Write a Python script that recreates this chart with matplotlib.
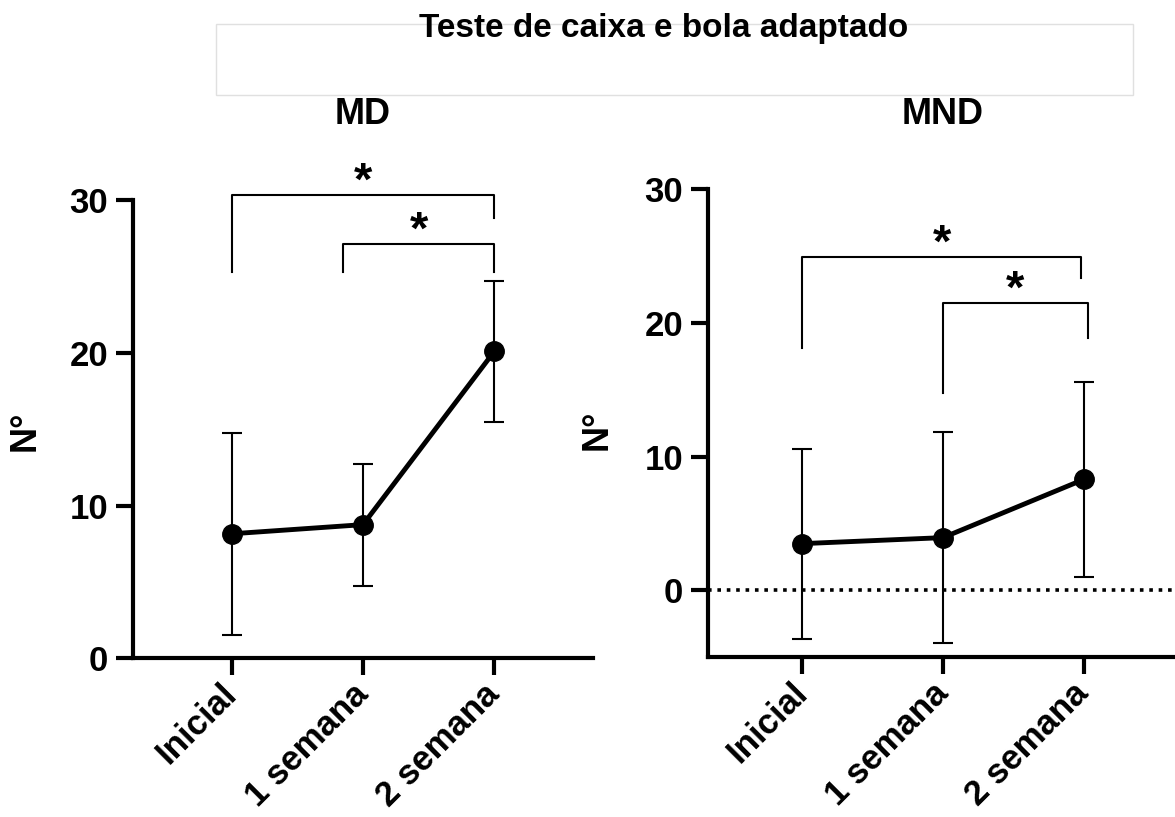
import matplotlib
matplotlib.use("Agg")
import matplotlib.pyplot as plt
from matplotlib.patches import Rectangle

plt.rcParams['font.family'] = ['Liberation Sans', 'DejaVu Sans']
plt.rcParams['font.weight'] = 'bold'

groups = ["Inicial", "1 semana", "2 semana"]

md_mean = [8.15, 8.75, 20.1]
md_sd = [6.6, 4.0, 4.6]
mnd_mean = [3.5, 3.95, 8.3]
mnd_sd = [7.1, 7.9, 7.3]

# brackets: x start, x end, top, left leg bottom, right leg bottom
md_brackets = [(0, 2, 30.3, 25.3, 28.8), (0.85, 2, 27.1, 25.3, 25.3)]
mnd_brackets = [(0, 1.98, 24.9, 18.1, 23.4), (1, 2.03, 21.5, 14.75, 18.9)]

W, H = 1175, 817
fig = plt.figure(figsize=(W / 100, H / 100), dpi=100)

ax1 = fig.add_axes([133 / W, 1 - 658.3 / H, 460 / W, 458.3 / H])
ax2 = fig.add_axes([708 / W, 1 - 657.3 / H, 470 / W, 468 / H])


def draw_panel(ax, mean, sd, brackets, ylim, xlim):
    x = list(range(len(groups)))
    ax.errorbar(x, mean, yerr=sd, fmt='o-', color='black', lw=3.5, ms=14,
                elinewidth=1.5, capsize=7, capthick=1.5, zorder=3)
    for x0, x1, top, l_bot, r_bot in brackets:
        ax.plot([x0, x0, x1, x1], [l_bot, top, top, r_bot], color='black',
                lw=1.5, clip_on=False)
        ax.annotate('*', ((x0 + x1) / 2, top), xytext=(0, -7),
                    textcoords='offset points', ha='center', va='bottom',
                    fontsize=34, fontweight='bold', annotation_clip=False)
    ax.set_xlim(*xlim)
    ax.set_ylim(*ylim)
    ax.set_yticks([0, 10, 20, 30])
    ax.set_xticks(x)
    ax.set_xticklabels(groups, rotation=45, ha='right', va='center',
                       rotation_mode='anchor', fontsize=25, fontweight='bold')
    for lab in ax.get_yticklabels():
        lab.set_fontweight('bold')
    ax.tick_params(axis='both', length=12, width=3, labelsize=25, pad=6)
    ax.tick_params(axis='x', pad=10)
    for s in ['top', 'right']:
        ax.spines[s].set_visible(False)
    for s in ['left', 'bottom']:
        ax.spines[s].set_linewidth(3)
    ax.set_ylabel('N°', fontsize=26, fontweight='bold')


draw_panel(ax1, md_mean, md_sd, md_brackets, (0, 30), (-0.75, 2.75))
draw_panel(ax2, mnd_mean, mnd_sd, mnd_brackets, (-5, 30), (-0.67, 2.67))
ax2.axhline(0, color='black', lw=2.6, ls=(0, (1, 1.6)), zorder=1)

ax1.yaxis.set_label_coords(-0.196, 0.496)
ax2.yaxis.set_label_coords(-0.198, 0.486)

fig.text(363 / W, 1 - 114 / H, 'MD', ha='center', va='center',
         fontsize=26, fontweight='bold')
fig.text(943 / W, 1 - 114 / H, 'MND', ha='center', va='center',
         fontsize=26, fontweight='bold')

fig.patches.append(Rectangle((216 / W, 1 - 95 / H), (1133 - 216) / W, 71 / H,
                             transform=fig.transFigure, fill=False,
                             edgecolor='#e0e0e0', lw=1))
fig.text(664 / W, 1 - 28 / H, 'Teste de caixa e bola adaptado', ha='center',
         va='center', fontsize=24, fontweight='bold')

fig.savefig('out.png', dpi=100)
